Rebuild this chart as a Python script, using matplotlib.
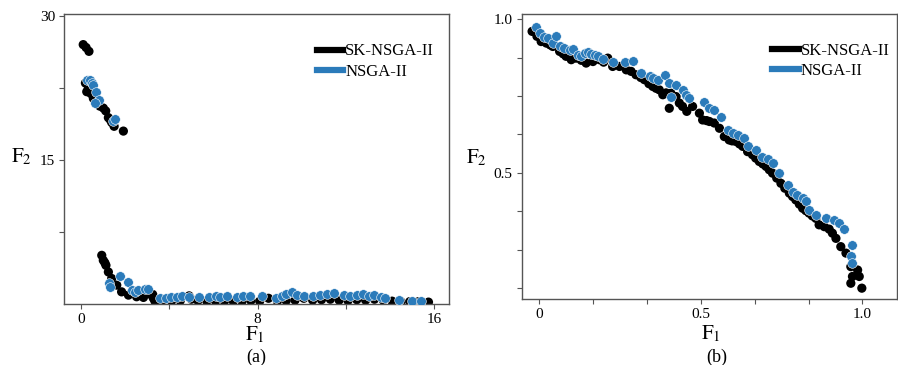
import matplotlib
matplotlib.use("Agg")
import matplotlib.pyplot as plt
from matplotlib.lines import Line2D

plt.rcParams['font.family'] = ['Liberation Serif', 'DejaVu Serif']
plt.rcParams['mathtext.fontset'] = 'stix'

BLUE = '#2b7bba'

# ---- panel (a) data ----
a_sk_x = [0.10, 0.23, 0.36,
          0.20, 0.26, 0.33, 0.45, 0.56, 0.70, 0.85, 1.01, 1.12, 1.24, 1.32, 1.39, 1.50, 1.92,
          0.94, 1.01, 1.08, 1.13, 1.24, 1.39, 1.62, 1.84, 2.15, 2.52, 2.83, 3.20, 3.25, 3.28,
          3.35, 3.70, 4.10, 4.50, 4.90, 5.00, 5.30, 5.70, 6.10, 6.50, 6.90, 7.30, 7.70, 8.10,
          8.50, 8.90, 9.30, 9.70, 10.10, 10.50, 10.90, 11.30, 11.70, 12.10, 12.50, 12.90,
          13.30, 13.70, 14.10, 14.50, 14.90, 15.30, 15.75]
a_sk_y = [27.0, 26.7, 26.3,
          23.0, 22.1, 22.4, 21.9, 21.4, 20.9, 20.6, 20.4, 20.1, 19.4, 19.2, 18.9, 18.5, 18.0,
          5.07, 4.55, 4.30, 4.03, 3.34, 2.66, 1.97, 1.27, 0.93, 0.76, 0.69, 0.93, 1.00, 0.60,
          0.30, 0.30, 0.30, 0.35, 0.85, 0.50, 0.35, 0.30, 0.30, 0.30, 0.30, 0.30, 0.35, 0.30,
          0.60, 0.30, 0.35, 0.40, 0.60, 0.40, 0.45, 0.50, 0.40, 0.35, 0.45, 0.40,
          0.50, 0.40, 0.30, 0.25, 0.25, 0.25, 0.20]

a_ns_x = [0.29, 0.41, 0.48, 0.55, 0.68, 0.83, 0.64, 1.46, 1.54,
          1.28, 1.31, 1.77, 2.15, 2.30, 2.45, 2.60, 2.90, 3.05,
          3.60, 3.85, 4.10, 4.35, 4.60, 4.90, 5.35, 5.80, 6.10, 6.30, 6.60, 7.05, 7.35,
          7.65, 8.20, 8.85, 9.10, 9.30, 9.55, 9.80, 10.10, 10.50, 10.85, 11.15, 11.45,
          11.90, 12.20, 12.50, 12.80, 13.05, 13.30, 13.60, 13.80, 14.40, 15.00, 15.40]
a_ns_y = [23.3, 23.3, 23.0, 22.8, 22.1, 21.2, 20.9, 19.1, 19.3,
          2.20, 1.80, 2.90, 2.30, 1.45, 1.30, 1.45, 1.52, 1.60,
          0.60, 0.65, 0.70, 0.75, 0.85, 0.70, 0.75, 0.75, 0.80, 0.78, 0.80, 0.78, 0.80,
          0.85, 0.80, 0.65, 0.85, 1.05, 1.25, 0.90, 0.80, 0.85, 0.95, 1.05, 1.10,
          0.95, 0.85, 0.95, 1.00, 0.85, 0.95, 0.75, 0.60, 0.40, 0.35, 0.35]

# ---- panel (b) data ----
b_sk_x = [-0.021, -0.006, 0.007, 0.023, 0.043, 0.064, 0.084, 0.100, 0.115, 0.131, 0.146,
          0.167, 0.187, 0.213, 0.228, 0.249, 0.270, 0.285, 0.300, 0.326, 0.352, 0.372,
          0.383, 0.403, 0.408, 0.424, 0.434, 0.444, 0.457, 0.475, 0.496, 0.506, 0.527,
          0.542, 0.558, 0.573, 0.588, 0.609, 0.630, 0.645, 0.660, 0.681, 0.702, 0.722,
          0.748, 0.774, 0.794, 0.815, 0.835, 0.856, 0.866, 0.882, 0.897, 0.907, 0.918,
          0.933, 0.949, 0.964, 0.969, 0.985, 0.990, 0.964, 0.998,
          0.035, 0.075, 0.200, 0.315, 0.340, 0.362, 0.393, 0.518, 0.597, 0.620, 0.670,
          0.692, 0.712, 0.735, 0.760, 0.784, 0.805, 0.825, 0.845]
b_sk_y = [0.960, 0.944, 0.927, 0.922, 0.911, 0.895, 0.879, 0.868, 0.873, 0.866, 0.857,
          0.862, 0.868, 0.873, 0.846, 0.846, 0.835, 0.830, 0.819, 0.803, 0.781, 0.770,
          0.754, 0.710, 0.759, 0.748, 0.727, 0.716, 0.700, 0.716, 0.694, 0.672, 0.667,
          0.662, 0.645, 0.618, 0.607, 0.602, 0.586, 0.569, 0.559, 0.537, 0.521, 0.499,
          0.466, 0.434, 0.412, 0.385, 0.369, 0.352, 0.331, 0.325, 0.317, 0.304, 0.287,
          0.260, 0.239, 0.195, 0.163, 0.184, 0.163, 0.141, 0.125,
          0.916, 0.887, 0.860, 0.810, 0.790, 0.775, 0.760, 0.670, 0.604, 0.594, 0.548,
          0.529, 0.510, 0.483, 0.450, 0.423, 0.398, 0.377, 0.360]

b_ns_x = [-0.010, 0.002, 0.017, 0.028, 0.043, 0.053, 0.064, 0.079, 0.095, 0.105, 0.120,
          0.131, 0.141, 0.151, 0.162, 0.172, 0.182, 0.198, 0.228, 0.267, 0.290, 0.316,
          0.342, 0.354, 0.367, 0.391, 0.403, 0.408, 0.424, 0.444, 0.455, 0.463, 0.511,
          0.527, 0.542, 0.563, 0.583, 0.599, 0.614, 0.635, 0.645, 0.671, 0.691, 0.707,
          0.722, 0.743, 0.769, 0.784, 0.799, 0.815, 0.825, 0.835, 0.856, 0.887, 0.913,
          0.928, 0.943, 0.969, 0.964, 0.967]
b_ns_y = [0.974, 0.954, 0.941, 0.938, 0.922, 0.944, 0.913, 0.906, 0.900, 0.902, 0.884,
          0.879, 0.889, 0.892, 0.887, 0.884, 0.879, 0.870, 0.862, 0.859, 0.863, 0.826,
          0.816, 0.808, 0.803, 0.819, 0.792, 0.748, 0.786, 0.770, 0.754, 0.743, 0.732,
          0.710, 0.705, 0.683, 0.640, 0.629, 0.624, 0.613, 0.586, 0.575, 0.553, 0.544,
          0.531, 0.499, 0.461, 0.439, 0.428, 0.418, 0.407, 0.380, 0.363, 0.352, 0.347,
          0.336, 0.317, 0.266, 0.228, 0.206]

labels = ['SK-NSGA-II', 'NSGA-II']

fig = plt.figure(figsize=(8.98, 3.65), dpi=100)
ax1 = fig.add_axes([0.0713, 0.167, 0.4287, 0.795])
ax2 = fig.add_axes([0.581, 0.181, 0.418, 0.781])


def style(ax, anchor):
    for s in ax.spines.values():
        s.set_color('#555555')
        s.set_linewidth(1.0)
    ax.tick_params(direction='out', length=3.5, width=0.8, color='#555555',
                   labelsize=11, pad=3)
    handles = [Line2D([], [], color='black', lw=4.5),
               Line2D([], [], color=BLUE, lw=4.5)]
    ax.legend(handles, labels, loc='upper right', frameon=False, fontsize=12,
              handlelength=1.6, handletextpad=0.1, labelspacing=0.25,
              bbox_to_anchor=anchor)


# panel (a)
ax1.scatter(a_sk_x, a_sk_y, s=44, color='black', edgecolors='none', zorder=2)
ax1.scatter(a_ns_x, a_ns_y, s=48, color=BLUE, edgecolors='white', linewidths=0.4, zorder=3)
ax1.set_xlim(-0.77, 16.68)
ax1.set_ylim(0, 30.2)
ax1.set_xticks([0, 4, 8, 12, 16])
ax1.set_xticklabels(['0', '', '8', '', '16'])
ax1.set_yticks([7.5, 15, 22.5, 30])
ax1.set_yticklabels(['', '15', '', '30'])
style(ax1, (1.0, 0.95))
ax1.set_xlabel('$\\mathrm{F}_1$', fontsize=15)
ax1.xaxis.set_label_coords(0.496, -0.07)
ax1.set_ylabel('$\\mathrm{F}_2$', fontsize=15, rotation=0)
ax1.yaxis.set_label_coords(-0.11, 0.47)

# panel (b)
ax2.scatter(b_sk_x, b_sk_y, s=44, color='black', edgecolors='none', zorder=2)
ax2.scatter(b_ns_x, b_ns_y, s=48, color=BLUE, edgecolors='white', linewidths=0.4, zorder=3)
ax2.set_xlim(-0.053, 1.107)
ax2.set_ylim(0.09, 1.017)
ax2.set_xticks([0, 1/6, 2/6, 0.5, 4/6, 5/6, 1.0])
ax2.set_xticklabels(['0', '', '', '0.5', '', '', '1.0'])
ax2.set_yticks([0.125, 0.25, 0.375, 0.5, 0.625, 0.75, 0.875, 1.0])
ax2.set_yticklabels(['', '', '', '0.5', '', '', '', '1.0'])
style(ax2, (1.02, 0.95))
ax2.set_xlabel('$\\mathrm{F}_1$', fontsize=15)
ax2.xaxis.set_label_coords(0.504, -0.085)
ax2.set_ylabel('$\\mathrm{F}_2$', fontsize=15, rotation=0)
ax2.yaxis.set_label_coords(-0.12, 0.46)

fig.text(256 / 898, 1 - 357 / 365, '(a)', ha='center', va='center', fontsize=13)
fig.text(717 / 898, 1 - 357 / 365, '(b)', ha='center', va='center', fontsize=13)

fig.savefig('out.png', dpi=100)
